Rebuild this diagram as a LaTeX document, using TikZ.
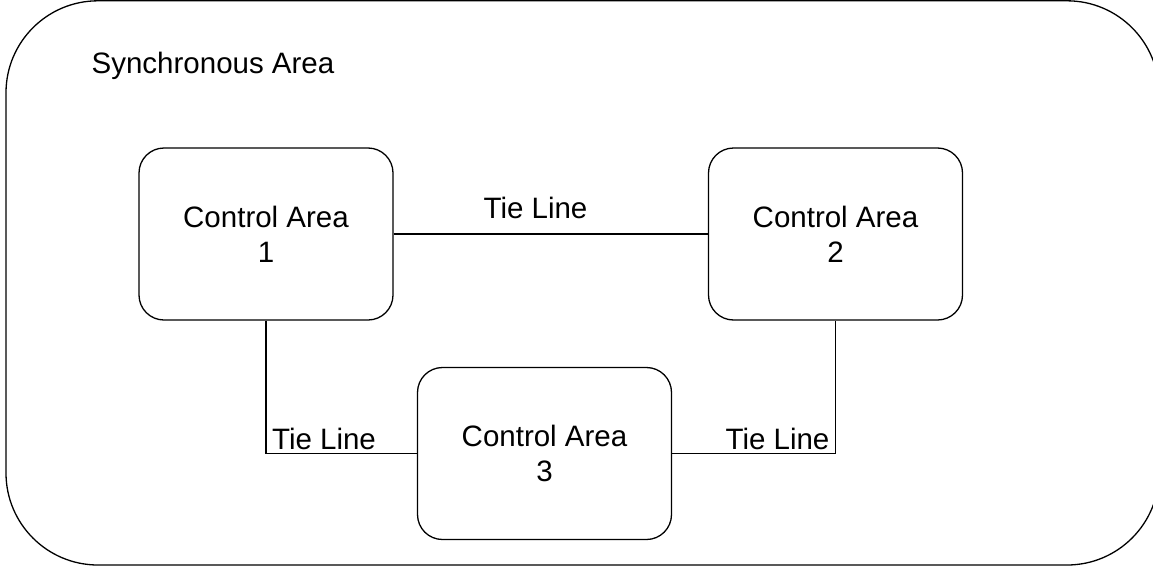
\documentclass[tikz,border=0pt]{standalone}
\usepackage{fontspec}
\setmainfont{Liberation Sans}
\begin{document}
\begin{tikzpicture}[x=1pt,y=-1pt,
  line width=1.3pt,
  areabox/.style={draw=black, rounded corners=25pt, minimum width=254pt, minimum height=172pt,
    align=center, inner sep=0pt, font=\fontsize{29.5}{35}\selectfont},
  tielabel/.style={anchor=base, inner sep=0pt, font=\fontsize{29.5}{35}\selectfont},
  tieline/.style={draw=black, line width=1.3pt}]
\clip (0,0) rectangle (1153,570);
\draw[rounded corners=92pt] (6,0.8) rectangle (1159,565);
\node[anchor=base west, inner sep=0pt, font=\fontsize{29.5}{35}\selectfont] (title) at (91,73) {Synchronous Area};
\node[areabox] (c1) at (266,234) {Control Area\\1};
\node[areabox] (c2) at (835.5,234) {Control Area\\2};
\node[areabox] (c3) at (544.5,453.5) {Control Area\\3};
\draw[tieline] (c1) -- (c2);
\draw[tieline] (c1.south) |- (c3.west);
\draw[tieline] (c3.east) -| (c2.south);
\node[tielabel] (t12) at (535.5,218) {Tie Line};
\node[tielabel] (t13) at (324,449) {Tie Line};
\node[tielabel] (t23) at (777.5,449) {Tie Line};
\end{tikzpicture}
\end{document}
